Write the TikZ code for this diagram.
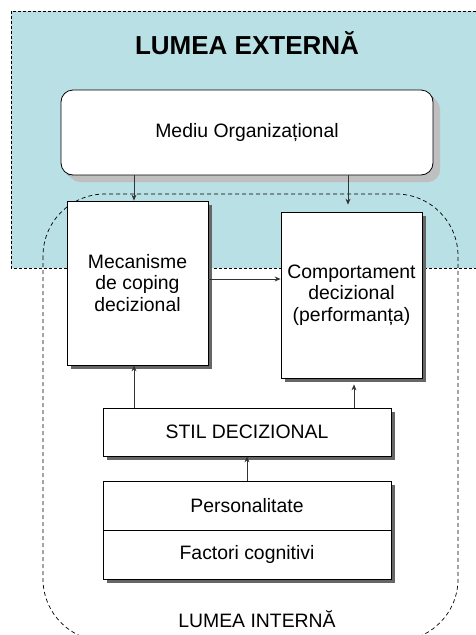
\documentclass[tikz,border=0pt]{standalone}
\usepackage{fontspec}
\setmainfont{Liberation Sans}
\usetikzlibrary{arrows.meta,shadows}
\definecolor{extfill}{RGB}{185,224,228}
\tikzset{>={Stealth[length=6pt,width=5pt]},every node/.style={font=\fontsize{19.4}{21.5}\selectfont},
box/.style={draw,line width=.8pt,fill=white,align=center,inner sep=3pt,drop shadow={shadow xshift=3.5pt,shadow yshift=-3.5pt,opacity=1,fill=black!60}},
flow/.style={line width=.8pt,draw=black!80,->},world/.style={line width=.7pt,dash pattern=on 3pt off 2pt}}

\begin{document}
\begin{tikzpicture}[x=1pt,y=-1pt]
\useasboundingbox (0,0) rectangle (476,635);
\draw[world,fill=extfill] (11,11) rectangle (484,268);\node[font=\fontsize{26}{28}\selectfont\bfseries] (ext) at (247,43){LUMEA EXTERNĂ};
\draw[line width=.7pt,dash pattern=on 4pt off 3pt,rounded corners=62pt] (43,194) rectangle (458,641);
\node (int) at (257,619){LUMEA INTERNĂ};
% cutii
\node[box,rounded corners=12pt,minimum width=372pt,minimum height=85pt,drop shadow={shadow xshift=7pt,shadow yshift=-7pt,opacity=1,fill=gray!50}] (mediu) at (247,132.5){Mediu Organizațional};
\node[box,minimum width=141pt,minimum height=164pt] (mec) at (137.5,283){Mecanisme\\de coping\\decizional};
\node[box,minimum width=141pt,minimum height=166pt] (comp) at (351.5,295){Comportament\\decizional\\(performanța)};
\node[box,minimum width=288pt,minimum height=48pt] (stil) at (247,432){STIL DECIZIONAL};
\node[box,minimum width=288pt,minimum height=49pt] (pers) at (247,505.5){Personalitate};
\node[box,minimum width=288pt,minimum height=49pt] (fact) at (247,554.5){Factori cognitivi};
% sageti
\draw[flow] (mediu.south -| 134,0) -- (mec.north -| 134,0);\draw[flow,shorten >=7pt] (mediu.south -| 348,0) -- (comp.north -| 348,0);
\draw[flow] (mec.east |- 0,279) -- (comp.west |- 0,279);
\draw[flow] (stil.north -| 134,0) -- (mec.south -| 134,0);\draw[flow,shorten >=6pt] (stil.north -| 354,0) -- (comp.south -| 354,0);
\draw[flow] (pers.north) -- (stil.south);
\end{tikzpicture}
\end{document}
